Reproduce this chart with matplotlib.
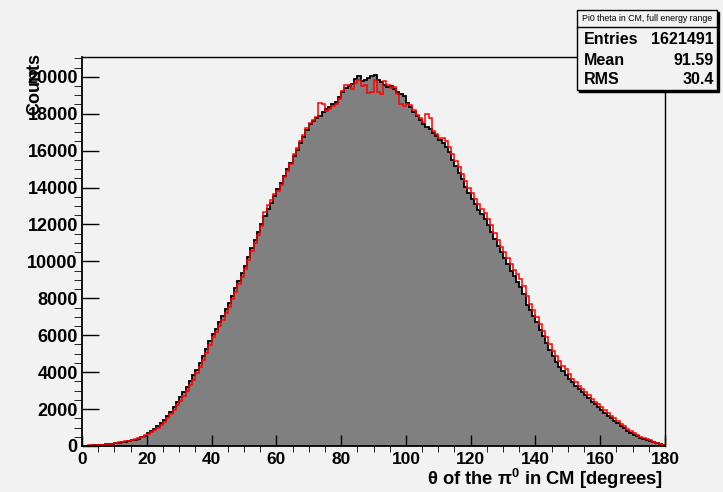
import matplotlib
matplotlib.use("Agg")
import matplotlib.pyplot as plt
from matplotlib.patches import Rectangle
from matplotlib.lines import Line2D
import numpy as np

# ---------------- data ----------------
bin_edges = list(range(0, 181))

black_counts = [
    5, 15, 25, 35, 45, 55, 70, 85, 105, 125,
    150, 175, 200, 230, 260, 300, 345, 400, 470, 560,
    680, 800, 930, 1080, 1240, 1420, 1620, 1850, 2100, 2380,
    2660, 2930, 3210, 3520, 3820, 4130, 4480, 4850, 5280, 5700,
    6080, 6350, 6700, 7050, 7400, 7750, 8150, 8550, 8950, 9350,
    9750, 10250, 10700, 11150, 11600, 12050, 12450, 12850, 13150, 13550,
    13900, 14250, 14650, 15000, 15350, 15700, 16050, 16400, 16750, 17100,
    17450, 17600, 17750, 17900, 18100, 18250, 18350, 18500, 18650, 18900,
    19150, 19400, 19500, 19600, 19900, 20050, 19750, 19800, 19950, 20050,
    20100, 19850, 19700, 19550, 19450, 19500, 19350, 19150, 19050, 18950,
    18600, 18350, 18100, 17850, 17650, 17450, 17300, 17150, 16950, 16800,
    16600, 16400, 16200, 15900, 15500, 15150, 14800, 14450, 14050, 13700,
    13400, 13100, 12800, 12550, 12300, 11950, 11600, 11200, 10850, 10500,
    10200, 9850, 9500, 9200, 8900, 8600, 8250, 7650, 7350, 7050,
    6700, 6300, 5950, 5600, 5200, 4850, 4550, 4300, 4050, 3850,
    3650, 3450, 3250, 3100, 2950, 2750, 2600, 2400, 2250, 2100,
    1950, 1800, 1650, 1500, 1350, 1220, 1080, 950, 830, 720,
    620, 530, 450, 380, 320, 260, 200, 140, 90, 40,
]

red_counts = [
    15, 25, 35, 45, 55, 65, 80, 95, 115, 135,
    170, 195, 220, 250, 280, 320, 365, 420, 490, 580,
    650, 760, 870, 1000, 1150, 1320, 1520, 1740, 1960, 2200,
    2450, 2720, 3000, 3300, 3600, 3930, 4280, 4650, 5050, 5480,
    5880, 6150, 6500, 6850, 7200, 7550, 7950, 8350, 8750, 9150,
    9600, 10100, 10550, 11000, 11450, 11900, 12650, 13050, 13350, 13650,
    13800, 14150, 14550, 14900, 15250, 15800, 16150, 16500, 16850, 17200,
    17500, 17650, 17800, 18600, 18500, 18150, 18250, 18400, 18550, 18800,
    19250, 19550, 19550, 19350, 19650, 19800, 19500, 19550, 19100, 19150,
    19800, 19150, 19050, 19750, 19550, 19400, 19450, 19050, 18550, 18400,
    18500, 18450, 18200, 17950, 17750, 17550, 18000, 17750, 17050, 16900,
    16700, 16700, 16500, 16200, 15800, 15450, 15100, 14750, 14350, 14000,
    13700, 13400, 13100, 12850, 12600, 12300, 11950, 11550, 11150, 10800,
    10500, 10200, 9850, 9550, 9300, 9050, 8650, 8150, 7700, 7350,
    7000, 6600, 6250, 5900, 5500, 5150, 4850, 4600, 4350, 4150,
    3900, 3650, 3450, 3250, 3100, 2900, 2750, 2550, 2400, 2250,
    2100, 1950, 1800, 1650, 1500, 1350, 1200, 1070, 940, 820,
    700, 580, 500, 430, 360, 300, 230, 170, 110, 50,
]

x_ticks = [0, 20, 40, 60, 80, 100, 120, 140, 160, 180]
y_ticks = [0, 2000, 4000, 6000, 8000, 10000, 12000, 14000, 16000, 18000, 20000]

stats_title = "Pi0 theta in CM, full energy range"
stats_names = ["Entries", "Mean", "RMS"]
stats_values = ["1621491", "91.59", "30.4"]

# ---------------- figure ----------------
W, H = 723, 492
BG = "#f2f2f2"
FONT = "Liberation Sans"
plt.rcParams["mathtext.fontset"] = "custom"
plt.rcParams["mathtext.bf"] = "Liberation Sans:bold"
plt.rcParams["mathtext.rm"] = "Liberation Sans:bold"

fig = plt.figure(figsize=(W / 100, H / 100), dpi=100, facecolor=BG)
ax_left, ax_right, ax_top, ax_bot = 82, 665, 56.5, 446
ax = fig.add_axes([ax_left / W, (H - ax_bot) / H,
                   (ax_right - ax_left) / W, (ax_bot - ax_top) / H])
ax.set_facecolor(BG)

ax.stairs(black_counts, bin_edges, fill=True, facecolor="#808080",
          edgecolor="none", zorder=1)
ax.stairs(black_counts, bin_edges, baseline=0, color="black", lw=1.3, zorder=1.5)
ax.stairs(red_counts, bin_edges, baseline=0, color="red", lw=1.1, zorder=1.6)

ax.set_xlim(0, 180)
ax.set_ylim(0, 21100)

ax.set_xticks(x_ticks)
ax.set_xticks(np.arange(0, 181, 5), minor=True)
ax.set_yticks(y_ticks)
ax.set_yticks(np.arange(0, 21001, 500), minor=True)

ax.tick_params(axis="both", direction="in", top=False, right=False,
               width=1, color="black")
ax.tick_params(axis="y", which="major", length=12.5, pad=3, labelsize=13)
ax.tick_params(axis="y", which="minor", length=6)
ax.tick_params(axis="x", which="major", length=8, pad=4, labelsize=12.5)
ax.tick_params(axis="x", which="minor", length=4)
for lab in ax.get_xticklabels() + ax.get_yticklabels():
    lab.set_fontfamily(FONT)
    lab.set_fontweight("bold")

for s in ax.spines.values():
    s.set_color("black")
    s.set_linewidth(1.0)
ax.spines["left"].set_linewidth(1.3)
ax.spines["bottom"].set_linewidth(1.3)

# axis titles
fig.text(663 / W, 1 - 479 / H, r"θ of the π$^{\mathbf{0}}$ in CM [degrees]",
         fontsize=13.2, fontweight="bold", family=FONT, ha="right", va="center")
fig.text(34.5 / W, 1 - 53 / H, "Counts", fontsize=13, fontweight="bold",
         family=FONT, rotation=90, ha="center", va="top")

# ---------------- stats box ----------------
def px2fig(x, y):
    return x / W, 1 - y / H

bx0, by0, bx1, by1 = 577, 10, 717, 90
fx, fy = px2fig(bx0 + 2, by1 + 2)
fig.patches.append(Rectangle((fx, fy), (bx1 - bx0) / W, (by1 - by0) / H,
                             transform=fig.transFigure, facecolor="black",
                             edgecolor="black", lw=1, zorder=5))
fx, fy = px2fig(bx0, by1)
fig.patches.append(Rectangle((fx, fy), (bx1 - bx0) / W, (by1 - by0) / H,
                             transform=fig.transFigure, facecolor=BG,
                             edgecolor="black", lw=1, zorder=6))
x0f, ylf = px2fig(bx0, 27)
x1f, _ = px2fig(bx1, 27)
fig.add_artist(Line2D([x0f, x1f], [ylf, ylf], transform=fig.transFigure,
                      color="black", lw=1, zorder=7))
tx, ty = px2fig((bx0 + bx1) / 2, 18.5)
fig.text(tx, ty, stats_title, fontsize=6.3, family=FONT, ha="center",
         va="center", zorder=8)
for i, (n, v) in enumerate(zip(stats_names, stats_values)):
    yy = [39, 60.5, 80][i]
    lx, ly = px2fig(584, yy)
    rx, _ = px2fig(714, yy)
    fig.text(lx, ly, n, fontsize=11.5, fontweight="bold", family=FONT,
             ha="left", va="center", zorder=8)
    fig.text(rx, ly, v, fontsize=11.5, fontweight="bold", family=FONT,
             ha="right", va="center", zorder=8)

fig.savefig("out.png", dpi=100, facecolor=BG)
